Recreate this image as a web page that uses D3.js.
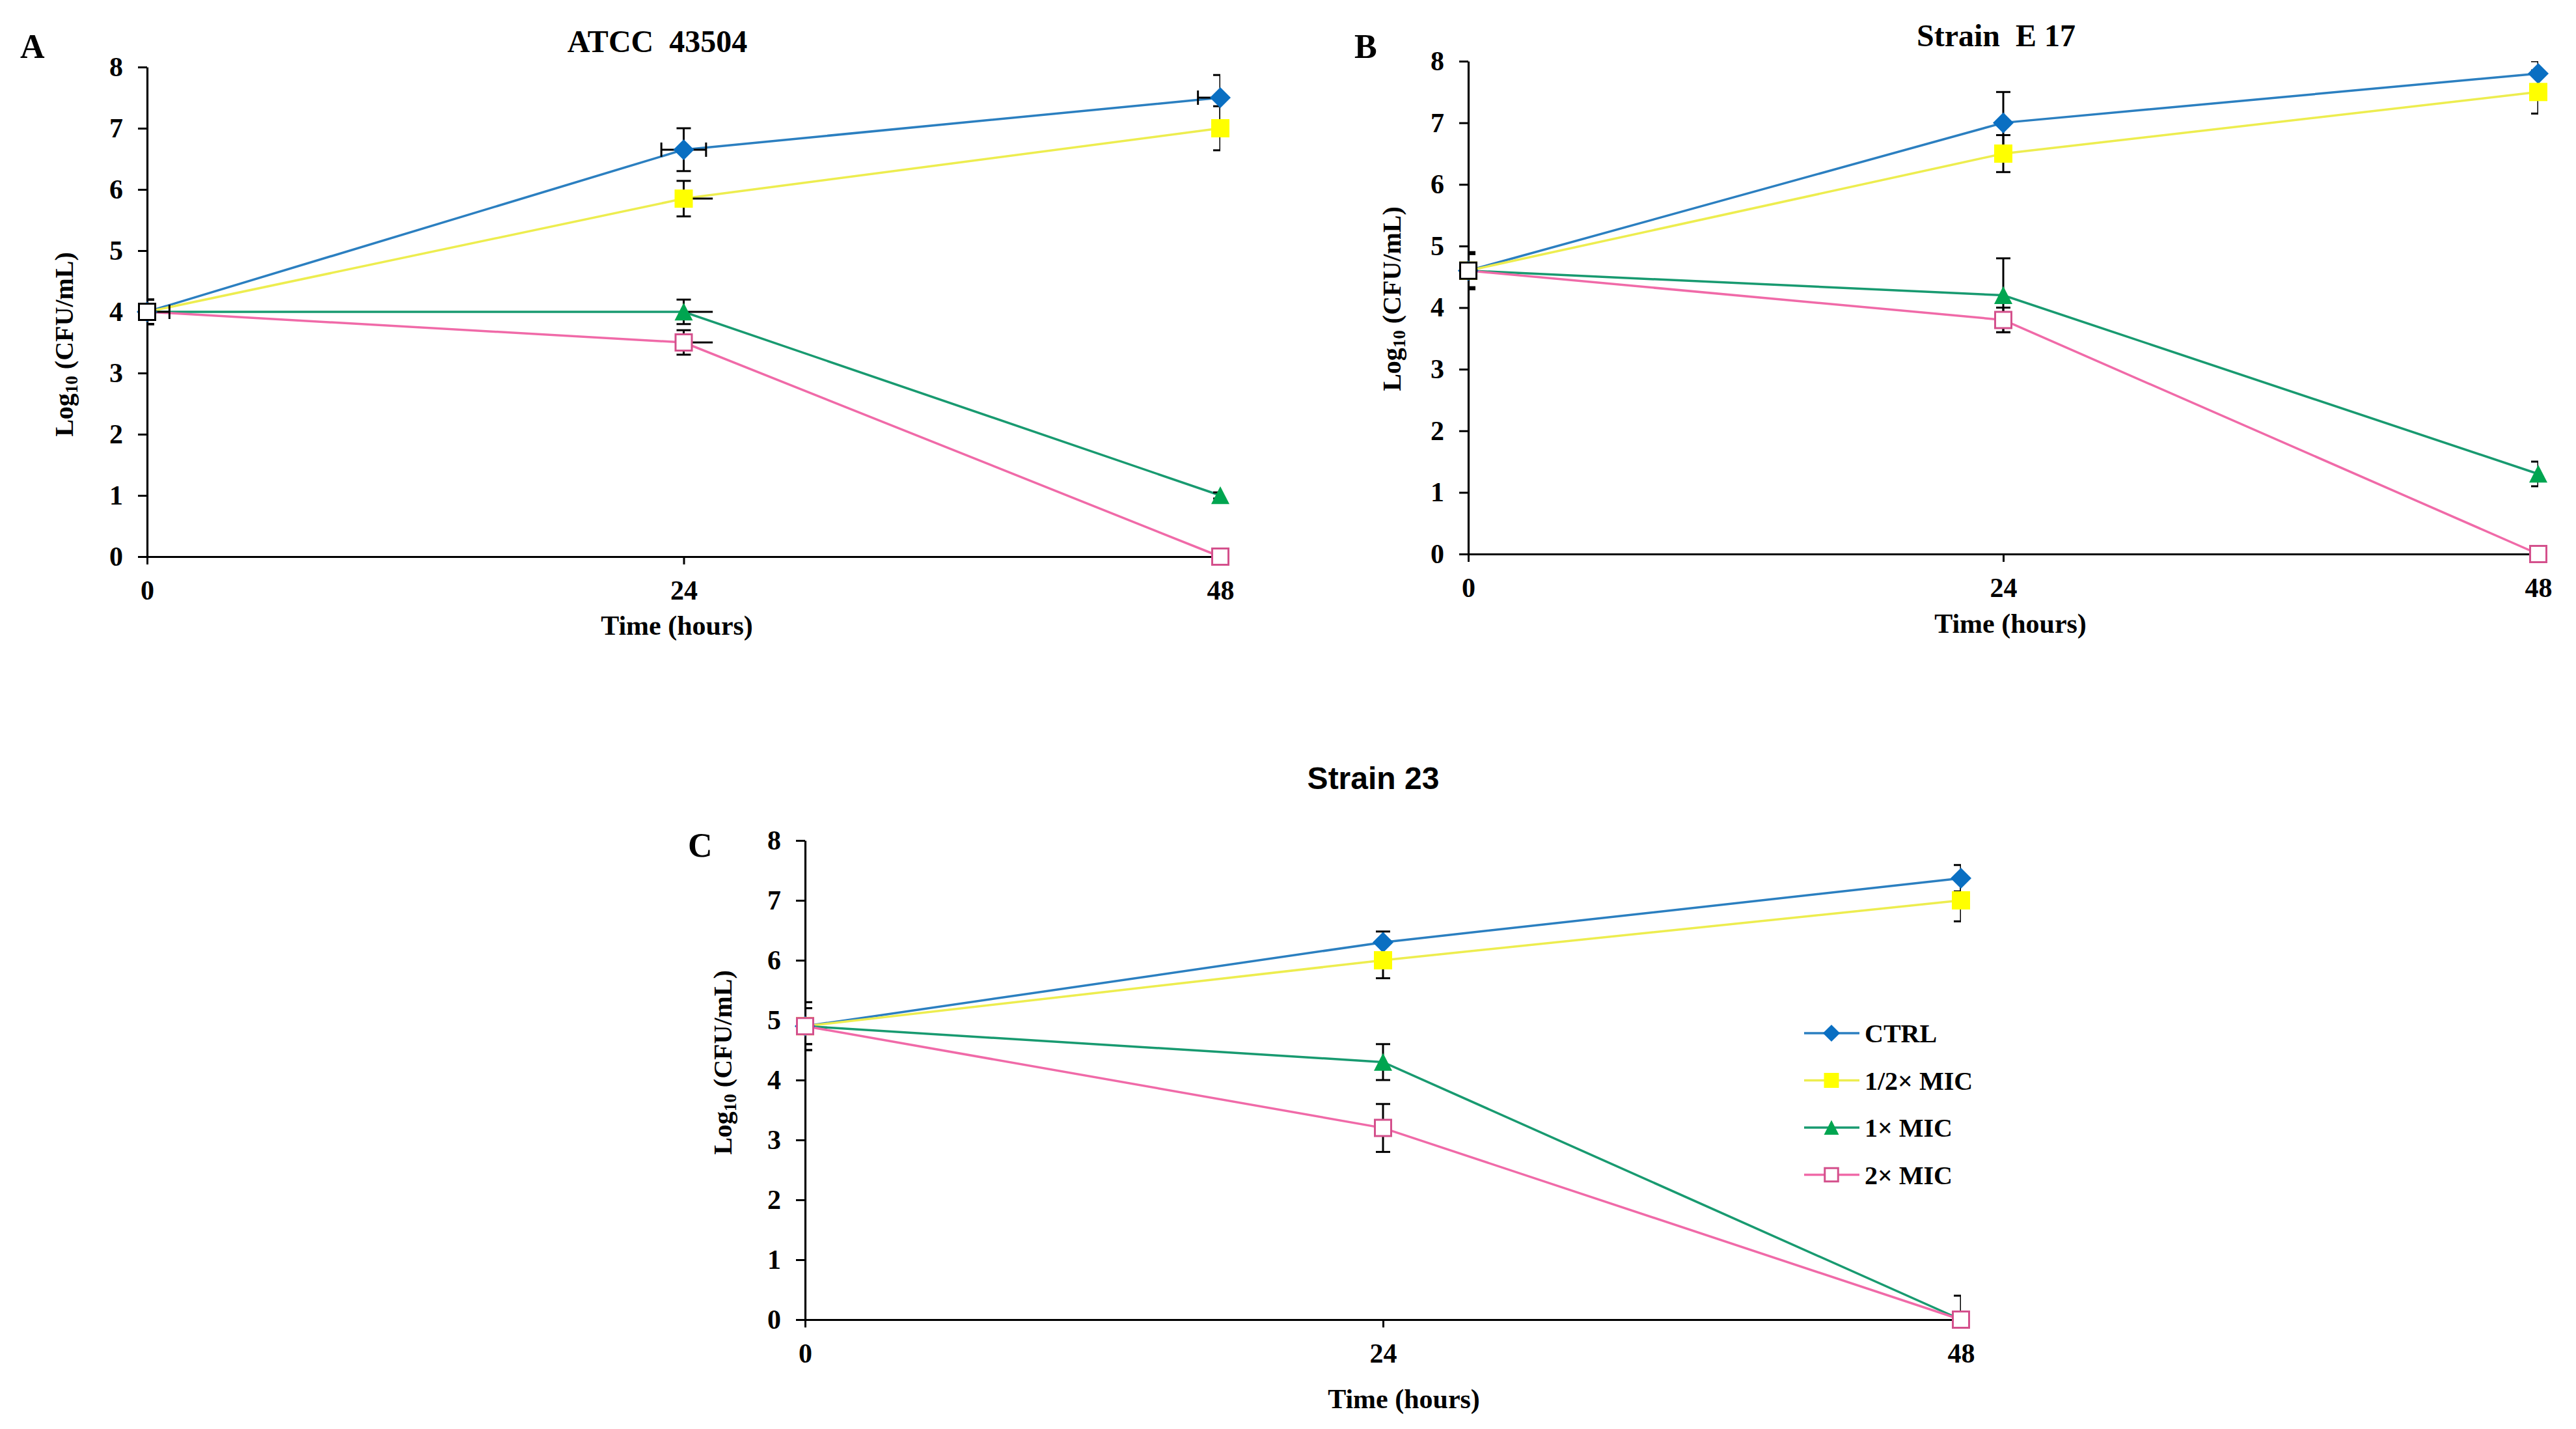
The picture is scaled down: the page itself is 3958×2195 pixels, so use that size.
<!DOCTYPE html>
<html>
<head>
<meta charset="utf-8">
<script src="https://cdn.jsdelivr.net/npm/d3@7"></script>
<style>
  body { margin: 0; background: #fff; }
  svg { display: block; }
  .title { white-space: pre; }
</style>
</head>
<body>
<svg id="chart" width="3958" height="2195"></svg>
<script>
// time points and labels
const times = [0, 24, 48];
const xTicks = [0, 24, 48];
const yTicks = [0, 1, 2, 3, 4, 5, 6, 7, 8];
const seriesNames = ["CTRL", "1/2\u00d7 MIC", "1\u00d7 MIC", "2\u00d7 MIC"];

// panel A - ATCC 43504
const aCtrl = [4.0, 6.65, 7.5];
const aHalf = [4.0, 5.85, 7.0];
const aOne = [4.0, 4.0, 1.0];
const aTwo = [4.0, 3.5, 0.0];
const aCtrlErr = [0.2, 0.35, 0.37];
const aHalfErr = [0.2, 0.29, 0.36];
const aOneErr = [0.2, 0.2, 0.05];
const aTwoErr = [0.2, 0.2, 0.05];
const aCtrlXErr = [1, 1, 1];      // hours, both sides
const aOtherXPlus = [0, 1.3, 0];  // hours, plus side only

// panel B - Strain E 17
const bCtrl = [4.6, 7.0, 7.8];
const bHalf = [4.6, 6.5, 7.5];
const bOne = [4.6, 4.2, 1.3];
const bTwo = [4.6, 3.8, 0.0];
const bCtrlErr = [0.3, 0.5, 0.2];
const bHalfErr = [0.27, 0.3, 0.35];
const bOneErr = [0.3, 0.6, 0.2];
const bTwoErr = [0.27, 0.2, 0.05];

// panel C - Strain 23
const cCtrl = [4.9, 6.3, 7.37];
const cHalf = [4.9, 6.0, 7.0];
const cOne = [4.9, 4.3, 0.0];
const cTwo = [4.9, 3.2, 0.0];
const cCtrlErr = [0.3, 0.18, 0.22];
const cHalfErr = [0.4, 0.3, 0.35];
const cOneErr = [0.3, 0.3, 0.05];
const cTwoErr = [0.4, 0.4, 0.4];

const serif = "'Liberation Serif', 'Times New Roman', serif";
const sans = "'Liberation Sans', Arial, sans-serif";

const lineColors = ["#2b7fc0", "#eded4f", "#189a70", "#f06aa8"];
const markFill = ["#0a6fc2", "#ffff00", "#00a550", "#ffffff"];
const markStroke = ["none", "none", "none", "#d4508c"];

const markerPath = [
  s => `M0,${-s}L${s},0L0,${s}L${-s},0Z`,                 // diamond
  s => `M${-s},${-s}H${s}V${s}H${-s}Z`,                   // square
  s => `M0,${-s}L${s},${s * 0.95}H${-s}Z`,                // triangle
  s => `M${-s},${-s}H${s}V${s}H${-s}Z`                    // open square
];
const markerSize = [16, 14, 14, 12.5];

function mk(vals, err, xErr, xPlus) {
  return { vals, err, xErr: xErr || null, xPlus: xPlus || null };
}

const panels = [
  {
    key: "A", title: "ATCC  43504", titleFont: serif, titleX: 1010, titleY: 80,
    letterX: 31, letterY: 89,
    x0: 226, x1: 1875, yTop: 103, yBot: 855,
    ylabX: 112, ylabY: 529, xlabX: 1040, xlabY: 975, firstStroke: "#000",
    series: [mk(aCtrl, aCtrlErr, aCtrlXErr), mk(aHalf, aHalfErr, null, aOtherXPlus),
             mk(aOne, aOneErr, null, aOtherXPlus), mk(aTwo, aTwoErr, null, aOtherXPlus)]
  },
  {
    key: "B", title: "Strain  E 17", titleFont: serif, titleX: 3067, titleY: 71,
    letterX: 2081, letterY: 89,
    x0: 2256, x1: 3900, yTop: 94, yBot: 851,
    ylabX: 2152, ylabY: 459, xlabX: 3089, xlabY: 972, firstStroke: "#000",
    series: [mk(bCtrl, bCtrlErr), mk(bHalf, bHalfErr), mk(bOne, bOneErr), mk(bTwo, bTwoErr)]
  },
  {
    key: "C", title: "Strain 23", titleFont: sans, titleX: 2110, titleY: 1212,
    letterX: 1057, letterY: 1316,
    x0: 1237, x1: 3013, yTop: 1291, yBot: 2027,
    ylabX: 1124, ylabY: 1632, xlabX: 2157, xlabY: 2163, firstStroke: null,
    series: [mk(cCtrl, cCtrlErr), mk(cHalf, cHalfErr), mk(cOne, cOneErr), mk(cTwo, cTwoErr)]
  }
];

const svg = d3.select("#chart");
svg.append("rect").attr("width", 3958).attr("height", 2195).attr("fill", "#fff");

panels.forEach((p, pi) => {
  const x = d3.scaleLinear().domain([0, 48]).range([p.x0, p.x1]);
  const y = d3.scaleLinear().domain([0, 8]).range([p.yBot, p.yTop]);
  const g = svg.append("g");

  // titles
  g.append("text").attr("class", "title").attr("x", p.titleX).attr("y", p.titleY)
    .attr("text-anchor", "middle").attr("font-family", p.titleFont)
    .attr("font-weight", "bold").attr("font-size", 48).text(p.title);
  g.append("text").attr("x", p.letterX).attr("y", p.letterY)
    .attr("font-family", serif).attr("font-weight", "bold")
    .attr("font-size", 52).text(p.key);

  // axes
  const yAxis = g.append("g").attr("transform", `translate(${p.x0},0)`)
    .call(d3.axisLeft(y).tickValues(yTicks).tickFormat(d3.format("d"))
      .tickSize(14).tickSizeOuter(0).tickPadding(23));
  const xAxis = g.append("g").attr("transform", `translate(0,${p.yBot})`)
    .call(d3.axisBottom(x).tickValues(xTicks).tickFormat(d3.format("d"))
      .tickSize(12).tickSizeOuter(0).tickPadding(24));
  [yAxis, xAxis].forEach(a => {
    a.select(".domain").attr("stroke", "#000").attr("stroke-width", 3.2);
    a.selectAll(".tick line").attr("stroke", "#000").attr("stroke-width", 3);
    a.selectAll(".tick text").attr("font-family", serif).attr("font-weight", "bold")
      .attr("font-size", 42).attr("fill", "#000");
  });

  // axis titles
  g.append("text").attr("x", p.xlabX).attr("y", p.xlabY)
    .attr("text-anchor", "middle").attr("font-family", serif)
    .attr("font-weight", "bold").attr("font-size", 42).text("Time (hours)");
  const yl = g.append("text")
    .attr("transform", `translate(${p.ylabX},${p.ylabY}) rotate(-90)`)
    .attr("text-anchor", "middle").attr("font-family", serif)
    .attr("font-weight", "bold").attr("font-size", 40);
  yl.append("tspan").text("Log");
  yl.append("tspan").attr("font-size", 27).attr("dy", 7).text("10");
  yl.append("tspan").attr("dy", -7).text(" (CFU/mL)");

  // clip for error bars (plot area)
  const clipId = "clip" + p.key;
  svg.append("clipPath").attr("id", clipId).append("rect")
    .attr("x", p.x0).attr("y", p.yTop).attr("width", p.x1 - p.x0).attr("height", p.yBot - p.yTop);

  // lines
  const line = d3.line().x((d, i) => x(times[i])).y(d => y(d));
  p.series.forEach((s, si) => {
    g.append("path").datum(s.vals).attr("d", line)
      .attr("fill", "none").attr("stroke", lineColors[si]).attr("stroke-width", 3.5);
  });

  // error bars
  const eg = g.append("g").attr("clip-path", `url(#${clipId})`)
    .attr("stroke", "#000").attr("stroke-width", 3).attr("fill", "none");
  const cap = 11;
  p.series.forEach(s => {
    s.vals.forEach((v, i) => {
      const cx = x(times[i]);
      const e = s.err[i];
      if (e > 0) {
        const yt = y(v + e), yb = y(v - e);
        eg.append("line").attr("x1", cx).attr("x2", cx).attr("y1", yt).attr("y2", yb);
        eg.append("line").attr("x1", cx - cap).attr("x2", cx + cap).attr("y1", yt).attr("y2", yt);
        eg.append("line").attr("x1", cx - cap).attr("x2", cx + cap).attr("y1", yb).attr("y2", yb);
      }
      if (s.xErr && s.xErr[i] > 0) {
        const cy = y(v), xl = x(times[i] - s.xErr[i]), xr = x(times[i] + s.xErr[i]);
        eg.append("line").attr("x1", xl).attr("x2", xr).attr("y1", cy).attr("y2", cy);
        eg.append("line").attr("x1", xl).attr("x2", xl).attr("y1", cy - cap).attr("y2", cy + cap);
        eg.append("line").attr("x1", xr).attr("x2", xr).attr("y1", cy - cap).attr("y2", cy + cap);
      }
      if (s.xPlus && s.xPlus[i] > 0) {
        const cy = y(v);
        eg.append("line").attr("x1", cx).attr("x2", x(times[i] + s.xPlus[i]))
          .attr("y1", cy).attr("y2", cy);
      }
    });
  });

  // markers
  p.series.forEach((s, si) => {
    g.selectAll(null).data(s.vals).enter().append("path")
      .attr("transform", (d, i) => `translate(${x(times[i])},${y(d)})`)
      .attr("d", markerPath[si](markerSize[si]))
      .attr("fill", markFill[si])
      .attr("stroke", (d, i) => (si === 3 && i === 0 && p.firstStroke) ? p.firstStroke : markStroke[si])
      .attr("stroke-width", 3);
  });

  // legend (panel C only)
  if (p.key === "C") {
    const lg = g.append("g").attr("transform", "translate(2772,1587)");
    seriesNames.forEach((name, si) => {
      const row = lg.append("g").attr("transform", `translate(0,${si * 72.5})`);
      row.append("line").attr("x1", 0).attr("x2", 85).attr("y1", 0).attr("y2", 0)
        .attr("stroke", lineColors[si]).attr("stroke-width", 3.5);
      row.append("path").attr("transform", "translate(42,0)")
        .attr("d", markerPath[si](markerSize[si] * 0.82))
        .attr("fill", markFill[si]).attr("stroke", markStroke[si]).attr("stroke-width", 3);
      row.append("text").attr("x", 93).attr("y", 14)
        .attr("font-family", serif).attr("font-weight", "bold")
        .attr("font-size", 40).text(name);
    });
  }
});
</script>
</body>
</html>
